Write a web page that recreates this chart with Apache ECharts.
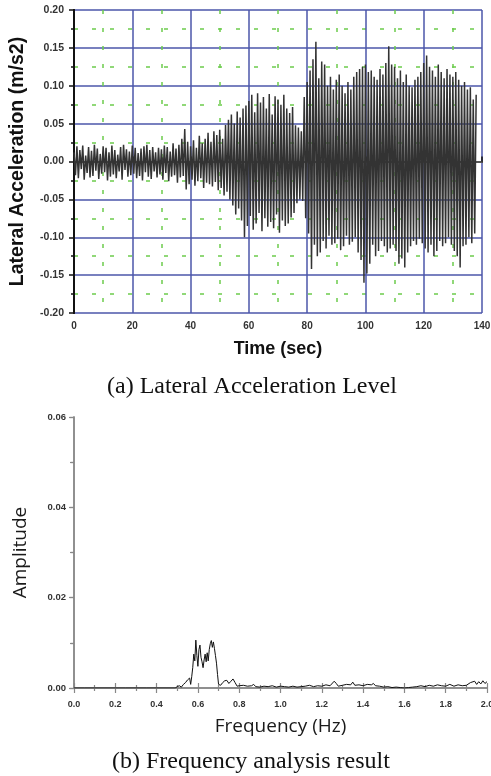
<!DOCTYPE html>
<html>
<head>
<meta charset="utf-8">
<script src="https://cdn.jsdelivr.net/npm/echarts@6/dist/echarts.min.js"></script>
<style>
html,body{margin:0;padding:0;background:#fff;}
#c{width:491px;height:776px;}
</style>
</head>
<body>
<div id="c"></div>
<script>
// ---- (a) Lateral acceleration, sampled every 0.5 s from 0 s ----
const sampleStep = 0.5;
const accel = [
0.012,-0.018,0.020,-0.022,0.015,-0.010,0.021,-0.024,0.008,-0.015,0.019,-0.021,0.014,-0.019,0.022,-0.012,0.017,-0.023,0.010,-0.016,
0.020,-0.014,0.018,-0.025,0.012,-0.020,0.021,-0.017,0.015,-0.022,0.009,-0.013,0.019,-0.024,0.022,-0.011,0.016,-0.020,0.013,-0.018,
0.021,-0.016,0.018,-0.022,0.011,-0.019,0.017,-0.025,0.020,-0.014,0.022,-0.020,0.015,-0.023,0.019,-0.013,0.012,-0.021,0.018,-0.017,
0.016,-0.024,0.021,-0.015,0.019,-0.026,0.013,-0.020,0.024,-0.018,0.017,-0.028,0.022,-0.021,0.030,-0.019,0.043,-0.037,0.026,-0.030,
0.020,-0.024,0.028,-0.032,0.018,-0.026,0.034,-0.022,0.024,-0.035,0.030,-0.028,0.038,-0.030,0.026,-0.033,0.040,-0.027,0.035,-0.038,
0.042,-0.035,0.030,-0.045,0.048,-0.040,0.055,-0.050,0.062,-0.058,0.050,-0.070,0.066,-0.062,0.058,-0.078,0.070,-0.100,0.074,-0.085,
0.080,-0.072,0.088,-0.090,0.065,-0.082,0.090,-0.068,0.078,-0.092,0.085,-0.075,0.070,-0.086,0.089,-0.080,0.062,-0.088,0.086,-0.070,
0.082,-0.094,0.075,-0.078,0.088,-0.085,0.070,-0.082,0.064,-0.074,0.072,-0.068,0.048,-0.055,0.045,-0.050,0.040,-0.052,0.085,-0.075,
0.105,-0.095,0.120,-0.142,0.135,-0.110,0.158,-0.125,0.110,-0.120,0.132,-0.105,0.128,-0.115,0.100,-0.098,0.112,-0.110,0.095,-0.108,
0.108,-0.102,0.115,-0.117,0.100,-0.112,0.090,-0.098,0.105,-0.110,0.095,-0.106,0.112,-0.100,0.118,-0.120,0.122,-0.130,0.125,-0.160,
0.128,-0.148,0.118,-0.135,0.120,-0.110,0.112,-0.125,0.108,-0.118,0.122,-0.105,0.115,-0.112,0.130,-0.120,0.152,-0.115,0.128,-0.110,
0.125,-0.118,0.110,-0.135,0.120,-0.128,0.105,-0.140,0.115,-0.120,0.100,-0.112,0.098,-0.105,0.108,-0.110,0.112,-0.102,0.118,-0.108,
0.130,-0.115,0.140,-0.120,0.125,-0.110,0.120,-0.125,0.112,-0.118,0.128,-0.105,0.118,-0.112,0.110,-0.108,0.122,-0.100,0.115,-0.110,
0.112,-0.118,0.118,-0.125,0.108,-0.140,0.100,-0.112,0.105,-0.110,0.095,-0.100,0.098,-0.108,0.082,-0.095,0.088
];
const timeTicks = [0,20,40,60,80,100,120,140];
const accelTicks = [-0.20,-0.15,-0.10,-0.05,0.00,0.05,0.10,0.15,0.20];

// ---- (b) Frequency spectrum ----
const freqs = [0.00,0.05,0.10,0.15,0.20,0.25,0.30,0.35,0.40,0.45,0.49,
0.50,0.51,0.52,0.53,0.54,0.55,0.56,0.565,0.57,0.575,0.58,0.585,0.59,0.595,0.60,0.605,0.61,0.615,0.62,0.625,0.63,0.635,0.64,0.645,0.65,0.655,0.66,0.665,0.67,0.675,0.68,0.685,0.69,0.695,0.70,0.705,0.71,0.72,0.73,0.74,0.75,0.76,0.77,0.78,0.79,
0.80,0.82,0.84,0.86,0.87,0.88,0.90,0.92,0.94,0.96,0.98,1.00,1.02,1.04,1.06,1.08,1.10,1.12,1.14,1.16,1.18,1.20,1.22,1.24,1.26,1.27,1.28,1.30,1.32,1.34,1.35,1.36,1.38,1.40,1.42,1.44,1.45,1.46,1.48,1.50,
1.52,1.54,1.56,1.58,1.60,1.62,1.64,1.66,1.68,1.70,1.72,1.74,1.76,1.78,1.80,1.82,1.84,1.86,1.88,1.90,1.92,1.94,1.95,1.96,1.97,1.98,1.99,2.00];
const amps = [0,0,0,0,0,0,0,0,0,0,0,
0.0003,0.0005,0.0002,0.0008,0.0012,0.0018,0.0022,0.0008,0.0025,0.0045,0.0075,0.0060,0.0106,0.0072,0.0048,0.0085,0.0095,0.0068,0.0058,0.0045,0.0062,0.0075,0.0058,0.0078,0.0060,0.0085,0.0098,0.0105,0.0090,0.0102,0.0088,0.0072,0.0055,0.0030,0.0008,0.0004,0.0006,0.0012,0.0016,0.0017,0.0010,0.0015,0.0020,0.0012,0.0004,
0.0005,0.0006,0.0004,0.0005,0.0008,0.0003,0.0002,0.0004,0.0003,0.0005,0.0002,0.0004,0.0003,0.0002,0.0004,0.0002,0.0003,0.0004,0.0006,0.0003,0.0005,0.0004,0.0007,0.0005,0.0015,0.0010,0.0004,0.0006,0.0008,0.0007,0.0013,0.0006,0.0007,0.0005,0.0008,0.0007,0.0010,0.0005,0.0004,0.0002,
0.0003,0.0001,0.0002,0.0001,0.0000,0.0001,0.0002,0.0003,0.0005,0.0003,0.0006,0.0004,0.0007,0.0005,0.0004,0.0008,0.0004,0.0007,0.0005,0.0006,0.0012,0.0015,0.0008,0.0014,0.0009,0.0016,0.0010,0.0014];
const freqTicks = [0.0,0.2,0.4,0.6,0.8,1.0,1.2,1.4,1.6,1.8,2.0];
const ampTicks = [0.00,0.02,0.04,0.06];

const accelData = accel.map((v,i)=>[i*sampleStep, v]);
const specData = freqs.map((f,i)=>[f, amps[i]]);

const chart = echarts.init(document.getElementById('c'), null, {renderer:'canvas'});
const blue = '#4b56aa';
const green = '#6ccb4c';
const hidden = {axisTick:{show:false}, axisLabel:{show:false}, splitLine:{show:false}, minorTick:{show:false}, minorSplitLine:{show:false}};
chart.setOption({
  animation:false,
  backgroundColor:'#fff',
  grid:[
    {left:74, right:9, top:10, bottom:463, containLabel:false, outerBoundsMode:'none'},
    {left:74, right:4, top:417, bottom:88, containLabel:false, outerBoundsMode:'none'}
  ],
  xAxis:[
    {gridIndex:0, type:'value', min:timeTicks[0], max:timeTicks[timeTicks.length-1], interval:20,
     name:'Time (sec)', nameLocation:'middle', nameGap:27,
     nameTextStyle:{fontFamily:'Liberation Sans', fontWeight:'bold', fontSize:18, color:'#111'},
     axisLine:{lineStyle:{color:'#111', width:2}},
     axisTick:{inside:true, length:5, lineStyle:{color:'#111', width:1.5}},
     minorTick:{show:true, splitNumber:2, length:4, lineStyle:{color:'#111', width:1.5}},
     axisLabel:{fontFamily:'Liberation Sans', fontWeight:'bold', fontSize:10, color:'#333', margin:8},
     splitLine:{show:true, lineStyle:{color:blue, width:1.5}},
     minorSplitLine:{show:true, lineStyle:{color:green, width:1.5, type:[4,14]}}
    },
    Object.assign({gridIndex:0, type:'value', position:'top', min:0, max:140, interval:20,
     axisLine:{show:true, lineStyle:{color:'#555', width:2}}}, hidden),
    {gridIndex:1, type:'value', min:freqTicks[0], max:freqTicks[freqTicks.length-1], interval:0.2,
     name:'Frequency (Hz)', nameLocation:'middle', nameGap:29,
     nameTextStyle:{fontFamily:'Open Sans', fontSize:19, color:'#1a1a1a'},
     axisLine:{lineStyle:{color:'#888', width:1.5}},
     axisTick:{inside:true, length:5, lineStyle:{color:'#888', width:1.2}},
     minorTick:{show:true, splitNumber:2, length:3, lineStyle:{color:'#888', width:1.2}},
     axisLabel:{fontFamily:'Liberation Sans', fontWeight:'bold', fontSize:9, color:'#333', margin:12,
       formatter:v=>v.toFixed(1)},
     splitLine:{show:false}
    },
    {gridIndex:1, type:'value', position:'top', min:0, max:2, interval:0.2,
     axisLine:{show:true, lineStyle:{color:'#888', width:1.5}},
     axisTick:{inside:true, length:5, lineStyle:{color:'#888', width:1.2}},
     minorTick:{show:true, splitNumber:2, length:3, lineStyle:{color:'#888', width:1.2}},
     axisLabel:{show:false}, splitLine:{show:false}
    }
  ],
  yAxis:[
    {gridIndex:0, type:'value', min:accelTicks[0], max:accelTicks[accelTicks.length-1], interval:0.05,
     name:'Lateral Acceleration (m/s2)', nameLocation:'middle', nameGap:46,
     nameTextStyle:{fontFamily:'Liberation Sans', fontWeight:'bold', fontSize:19.5, color:'#111'},
     axisLine:{lineStyle:{color:'#111', width:2}},
     axisTick:{inside:false, length:5, lineStyle:{color:'#111', width:1.5}},
     minorTick:{show:true, splitNumber:2, length:3, lineStyle:{color:'#111', width:1.5}},
     axisLabel:{fontFamily:'Liberation Sans', fontWeight:'bold', fontSize:10.5, color:'#333', margin:10,
       formatter:v=>v.toFixed(2)},
     splitLine:{show:true, lineStyle:{color:blue, width:1.5}},
     minorSplitLine:{show:true, lineStyle:{color:green, width:1.5, type:[4,14]}}
    },
    Object.assign({gridIndex:0, type:'value', position:'right', min:-0.2, max:0.2, interval:0.05,
     axisLine:{show:true, lineStyle:{color:'#111', width:2}}}, hidden),
    {gridIndex:1, type:'value', min:ampTicks[0], max:ampTicks[ampTicks.length-1], interval:0.02,
     name:'Amplitude', nameLocation:'middle', nameGap:44,
     nameTextStyle:{fontFamily:'Open Sans', fontSize:19, color:'#1a1a1a'},
     axisLine:{lineStyle:{color:'#888', width:1.5}},
     axisTick:{inside:false, length:5, lineStyle:{color:'#888', width:1.2}},
     minorTick:{show:true, splitNumber:2, length:3, lineStyle:{color:'#888', width:1.2}},
     axisLabel:{fontFamily:'Liberation Sans', fontWeight:'bold', fontSize:9.5, color:'#333', margin:8,
       formatter:v=>v.toFixed(2)},
     splitLine:{show:false}
    },
    {gridIndex:1, type:'value', position:'right', min:0, max:0.06, interval:0.02,
     axisLine:{show:true, lineStyle:{color:'#888', width:1.5}},
     axisTick:{inside:true, length:4, lineStyle:{color:'#888', width:1.2}},
     minorTick:{show:true, splitNumber:2, length:4, lineStyle:{color:'#888', width:1.2}},
     axisLabel:{show:false}, splitLine:{show:false}
    }
  ],
  series:[
    {type:'line', xAxisIndex:0, yAxisIndex:0, data:accelData, showSymbol:false, symbol:'none',
     sampling:null, lineStyle:{color:'#333', width:1.5}, z:3},
    {type:'line', xAxisIndex:2, yAxisIndex:2, data:specData, showSymbol:false, symbol:'none',
     lineStyle:{color:'#111', width:1}, z:3}
  ],
  graphic:[
    {type:'text', left:107, top:375, style:{text:'(a) Lateral Acceleration Level', fontFamily:'Liberation Serif', fontSize:24, fill:'#111'}},
    {type:'text', left:112, top:750, style:{text:'(b) Frequency analysis result', fontFamily:'Liberation Serif', fontSize:24, fill:'#111'}}
  ]
});
</script>
</body>
</html>
